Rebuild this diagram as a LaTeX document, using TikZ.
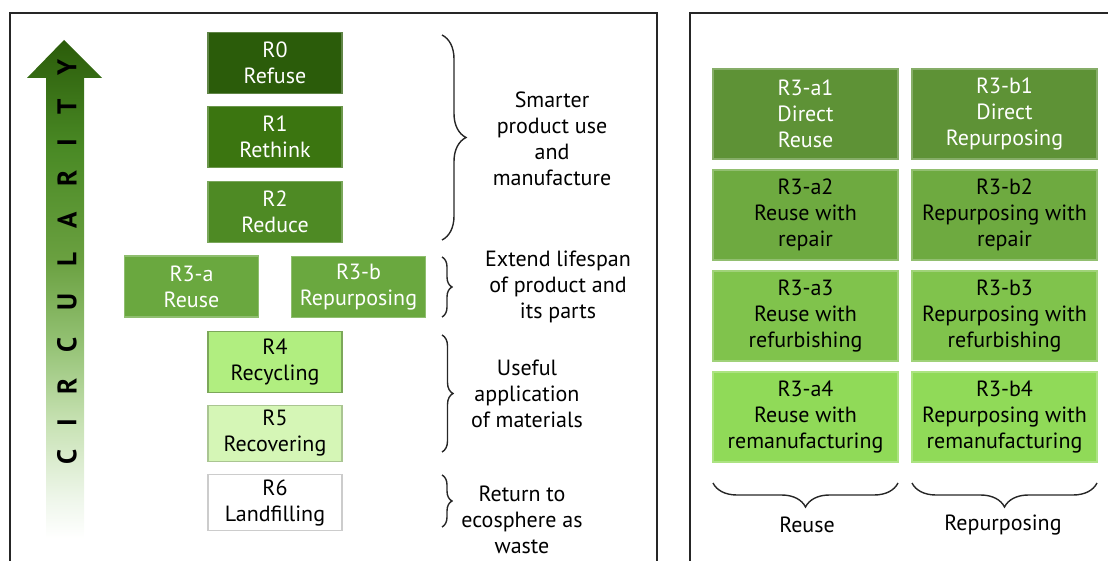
\documentclass[tikz,border=0pt]{standalone}
\usepackage{fontspec}
\setmainfont{PT Sans}
\usetikzlibrary{positioning,decorations.pathreplacing}

\definecolor{rzero}{HTML}{2B5C0A}
\definecolor{rone}{HTML}{3B7510}
\definecolor{rtwo}{HTML}{4E8A24}
\definecolor{rthree}{HTML}{6AA83F}
\definecolor{rfour}{HTML}{B1EE80}
\definecolor{rfive}{HTML}{D5F6B6}
\definecolor{aone}{HTML}{5E9236}
\definecolor{atwo}{HTML}{6EAA40}
\definecolor{athree}{HTML}{80C34C}
\definecolor{afour}{HTML}{90DA58}
\definecolor{fadea}{HTML}{EEF6EA}
\definecolor{fadeb}{HTML}{C8E2B4}
\definecolor{fadec}{HTML}{94C274}
\definecolor{faded}{HTML}{6AA040}
\definecolor{fadee}{HTML}{4A8A25}

% fading green of the circularity arrow
\pgfdeclareverticalshading{circfade}{100bp}{color(0bp)=(white); color(25bp)=(white);
    color(29bp)=(fadea); color(36.5bp)=(fadeb); color(44.5bp)=(fadec);
    color(53bp)=(faded); color(64bp)=(fadee); color(75bp)=(rzero); color(100bp)=(rzero)}

\begin{document}
\begin{tikzpicture}[x=0.5pt,y=-0.5pt,
        block/.style={draw,rectangle,minimum width=67pt,minimum height=30.5pt,inner sep=1pt,outer sep=0pt,line width=0.6pt,align=center,font=\fontsize{11}{13}\selectfont},
        wide/.style={block,minimum width=92.5pt,minimum height=45pt},
        note/.style={align=center,font=\fontsize{11}{13}\selectfont},
        brace/.style={decorate,decoration={brace,amplitude=#1},line width=0.7pt,draw=black!85}]

        \useasboundingbox (0,0) rectangle (1108,561);

        % the two panels
        \draw[line width=1pt,draw=black!85] (10,561) -- (10,13) -- (657,13) -- (657,561);
        \draw[line width=1pt,draw=black!85] (690,561) -- (690,13) -- (1108,13);

        % circularity arrow
        \shade[shading=circfade]
            (46,538) -- (46,78) -- (27,78) -- (64,40) -- (102,78) -- (84,78) -- (84,538) -- cycle;
        \foreach \ch/\yy [count=\i] in {C/457,I/423,R/386,C/345,U/302,L/260,A/220,R/178,I/143,T/107,Y/68}
            \node[rotate=90,font=\fontsize{13.5}{13.5}\selectfont\bfseries] (c\i) at (67,\yy) {\ch};

        % the R ladder
        \node[block,fill=rzero,draw=rzero!75!white,text=white] (R0) at (275,63) {R0\\Refuse};
        \node[block,fill=rone,draw=rone!75!white,text=white] (R1) [below=6.5pt of R0] {R1\\Rethink};
        \node[block,fill=rtwo,draw=rtwo!75!white,text=white] (R2) [below=7pt of R1] {R2\\Reduce};
        \node[block,fill=rthree,draw=rthree!75!white,text=white] (R3a) at (191.5,286.5) {R3-a\\Reuse};
        \node[block,fill=rthree,draw=rthree!75!white,text=white] (R3b) at (358.5,287) {R3-b\\Repurposing};
        \node[block,fill=rfour,draw=rfour!70!black] (R4) at (275,362) {R4\\Recycling};
        \node[block,fill=rfive,draw=rfive!80!black,minimum height=28pt] (R5) [below=6.5pt of R4] {R5\\Recovering};
        \node[block,fill=white,draw=black!20,minimum height=28pt] (R6) [below=6.5pt of R5] {R6\\Landfilling};

        % groups
        \draw[brace=12pt] (442,35) -- (442,240);
        \draw[brace=5pt] (442,257) -- (442,317);
        \draw[brace=5.5pt] (442,335) -- (442,452);
        \draw[brace=5pt] (442,475) -- (442,527);
        \node[note] (smarter) at (552,138.5) {Smarter\\product use\\and\\manufacture};
        \node[note] (extend) at (558,287) {Extend lifespan\\of product and\\its parts};
        \node[note] (useful) at (527,394) {Useful\\application\\of materials};
        \node[note] (return) at (522,520) {Return to\\ecosphere as\\waste};

        % R3 in detail
        \node[wide,fill=aone,draw=aone!75!white,text=white] (R3a1) at (805.5,114) {R3-a1\\Direct\\Reuse};
        \node[wide,fill=aone,draw=aone!75!white,text=white] (R3b1) [right=7pt of R3a1] {R3-b1\\Direct\\Repurposing};
        \node[wide,fill=atwo,draw=atwo!75!white] (R3a2) [below=5.5pt of R3a1] {R3-a2\\Reuse with\\repair};
        \node[wide,fill=atwo,draw=atwo!75!white] (R3b2) [below=5.5pt of R3b1] {R3-b2\\Repurposing with\\repair};
        \node[wide,fill=athree,draw=athree!75!white] (R3a3) [below=5.5pt of R3a2] {R3-a3\\Reuse with\\refurbishing};
        \node[wide,fill=athree,draw=athree!75!white] (R3b3) [below=5.5pt of R3b2] {R3-b3\\Repurposing with\\refurbishing};
        \node[wide,fill=afour,draw=afour!75!white] (R3a4) [below=5.5pt of R3a3] {R3-a4\\Reuse with\\remanufacturing};
        \node[wide,fill=afour,draw=afour!75!white] (R3b4) [below=5.5pt of R3b3] {R3-b4\\Repurposing with\\remanufacturing};

        \draw[brace=12pt] (898,483) -- (713,483);
        \draw[brace=12pt] (1097,483) -- (912,483);
        \node[note] (reuse) at (807,525) {Reuse};
        \node[note] (repurp) at (1003,525) {Repurposing};
\end{tikzpicture}
\end{document}
